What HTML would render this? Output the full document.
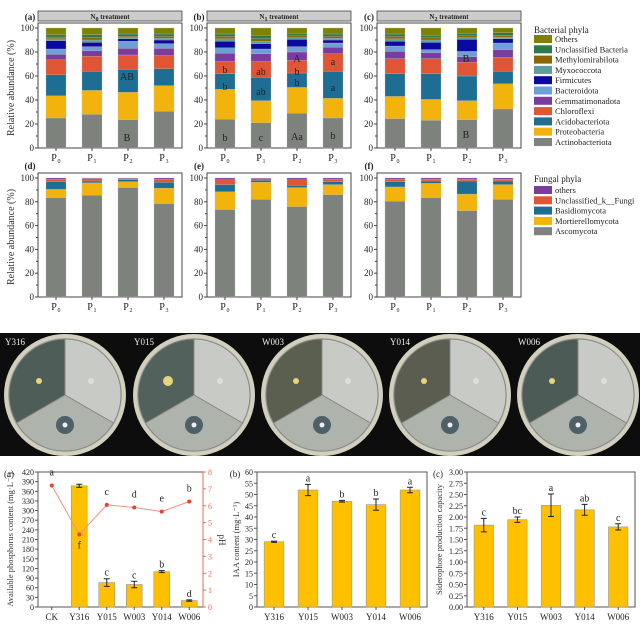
<!DOCTYPE html>
<html><head><meta charset="utf-8"><style>
body{margin:0;background:#fff;width:640px;height:640px;overflow:hidden}
svg{display:block;font-family:"Liberation Serif",serif}
</style></head><body>
<svg id="s" width="640" height="640" viewBox="0 0 640 640" xmlns="http://www.w3.org/2000/svg"></svg>
<script>
const S=document.getElementById('s');let h='';
const bc=['#7d827c','#f2b40c','#1d6e92','#e05533','#7a3d9f','#6e9fd6','#0a0a9e','#5f9f99','#8a6500','#2a7b4b','#7f8200'];
const fc=['#7d827c','#f2b40c','#1d6e92','#e05533','#7a3d9f'];
const bac=[[[25,43.5,61,73.5,78,82.5,89.5,91,92.5,94.5,100],[28,48,64,76.5,81,84.5,88,90,92,94.5,100],[23.5,46.5,65.5,77.5,83,89,91,92,93,95,100],[30.5,52,66,77,83,87,90,91.5,93,95,100]],
[[24,49,62,72,79,83.5,89,91,93,95,100],[21,39.5,59,72,78.5,82.5,87,89,91,94,100],[29,50.5,62.5,73,80,84.5,90.5,92,93.5,95.5,100],[25,41.5,64,78.5,84,87.5,90,91.5,93,95,100]],
[[24.5,43,62,74.5,80.5,85,89,91,93,95,100],[23,40.5,62,74.5,79.5,82,88,90,92,94,100],[23.5,39.5,60,71.5,76,80.5,90.5,92,93.5,95.5,100],[32.5,53.5,64,75.5,82,87.5,91,92.5,94,96,100]]];
const fun=[[[83.5,90.5,97,99,100],[85.5,96,97.5,99.5,100],[92,97,98.5,99.5,100],[78.5,91.5,96.5,99,100]],
[[73.5,88.5,94.5,98.5,100],[82,96.5,98,99.5,100],[76,92,94,98.5,100],[86,94.5,97,99,100]],
[[80.5,92.5,97,99,100],[83.5,95.5,97.5,99,100],[72.5,86.5,97.5,99,100],[82,94.5,97.5,99,100]]];
const L=[38,207,377];
function t(x,y,s,sz,a,c,e){h+=`<text x="${x}" y="${y}" font-size="${sz}" text-anchor="${a||'start'}" fill="${c||'#222'}" ${e||''}>${s}</text>`}
function stack(x0,y0,y1,data,cols,lbl){
 const w=144,sc=(y0-y1)/100;
 h+=`<rect x="${x0}" y="${y1-5}" width="${w}" height="${y0-y1+5}" fill="none" stroke="#444" stroke-width="1"/>`;
 data.forEach((d,i)=>{const cx=x0+18+i*36;let p=0;d.forEach((v,k)=>{h+=`<rect x="${cx-10}" y="${y0-v*sc}" width="20" height="${(v-p)*sc}" fill="${cols[k]}" stroke="#bbb" stroke-width="0.3"/>`;p=v;});
 h+=`<line x1="${cx}" y1="${y0}" x2="${cx}" y2="${y0+3}" stroke="#444"/>`;
 t(cx-2,y0+13,'P',10,'middle');t(cx+3,y0+15,i,6,'middle');});
 for(let v=0;v<=100;v+=20){const y=y0-v*sc;h+=`<line x1="${x0-3}" y1="${y}" x2="${x0}" y2="${y}" stroke="#444"/>`;t(x0-4,y+3,v,9,'end');}
 for(let v=10;v<100;v+=20){const y=y0-v*sc;h+=`<line x1="${x0-2}" y1="${y}" x2="${x0}" y2="${y}" stroke="#444"/>`;}
}
const hd=['N<tspan font-size="6" dy="2">0</tspan><tspan dy="-2"> treatment</tspan>','N<tspan font-size="6" dy="2">1</tspan><tspan dy="-2"> treatment</tspan>','N<tspan font-size="6" dy="2">2</tspan><tspan dy="-2"> treatment</tspan>'];
for(let p=0;p<3;p++){
 h+=`<rect x="${L[p]}" y="11" width="144" height="10" fill="#ccc" stroke="#444" stroke-width="0.8"/>`;
 t(L[p]+72,19,hd[p],7,'middle','#222','font-weight="bold"');
 t(L[p]-8,20,'('+'abc'[p]+')',9,'middle','#222','font-weight="bold"');
 stack(L[p],148,28,bac[p],bc);
 t(L[p]-8,169,'('+'def'[p]+')',9,'middle','#222','font-weight="bold"');
 stack(L[p],297,178,fun[p],fc);
}
t(14,88,'Relative abundance (%)',10,'middle','#333','transform="rotate(-90 14 88)"');
t(14,237,'Relative abundance (%)',10,'middle','#333','transform="rotate(-90 14 237)"');
t(127,80,'AB',10,'middle');t(127,141,'B',10,'middle');
const lb=[[225,73,'b'],[225,90,'b'],[225,141,'b'],[261,75,'ab'],[261,95,'ab'],[261,141,'c'],[297,62,'A'],[297,75,'b'],[297,86,'b'],[297,140,'Aa'],[333,65,'a'],[333,91,'a'],[333,139,'b']];
lb.forEach(a=>t(a[0],a[1],a[2],10,'middle'));
t(466,62,'B',10,'middle');t(466,138,'B',10,'middle');
t(534,33,'Bacterial phyla',9);
const bn=['Others','Unclassified Bacteria','Methylomirabilota','Myxococcota','Firmicutes','Bacteroidota','Gemmatimonadota','Chloroflexi','Acidobacteriota','Proteobacteria','Actinobacteriota'];
bn.forEach((n,i)=>{const y=35+i*10.3;h+=`<rect x="534" y="${y}" width="18" height="8" fill="${bc[10-i]}"/>`;t(555,y+7,n,8.5);});
t(534,182,'Fungal phyla',9);
const fnm=['others','Unclassified_k__Fungi','Basidiomycota','Mortierellomycota','Ascomycota'];
fnm.forEach((n,i)=>{const y=186+i*10.3;h+=`<rect x="534" y="${y}" width="18" height="8" fill="${fc[4-i]}"/>`;t(555,y+7,n,8.5);});
h+=`<rect x="0" y="333" width="640" height="123" fill="#0d0d0d"/>`;
const pc=[65,194,322,450,578],pn=['Y316','Y015','W003','Y014','W006'],pd=['#4f5d58','#52615b','#5a5f50','#5a5d4f','#4d5b57'];
pc.forEach((cx,i)=>{const cy=395,r=61;
 h+=`<circle cx="${cx}" cy="${cy}" r="${r}" fill="#d2d0bd"/><circle cx="${cx}" cy="${cy}" r="${r-4}" fill="#b5b8ad"/>`;
 const pt=a=>[cx+(r-5)*Math.cos(a),cy+(r-5)*Math.sin(a)];
 const sec=(a1,a2,c)=>{const p1=pt(a1),p2=pt(a2);h+=`<path d="M${cx},${cy} L${p1[0]},${p1[1]} A${r-5},${r-5} 0 0 1 ${p2[0]},${p2[1]} Z" fill="${c}" stroke="#888" stroke-width="1"/>`;};
 const d=Math.PI/180;
 sec(-90*d,30*d,'#c8cbc5');sec(30*d,150*d,'#aeb3ab');sec(150*d,270*d,pd[i]);
 h+=`<circle cx="${cx-26}" cy="${cy-14}" r="${i==1?5:3}" fill="#e6d57a"/><circle cx="${cx+26}" cy="${cy-14}" r="3" fill="#dde0da"/>`;
 h+=`<circle cx="${cx}" cy="${cy+30}" r="9" fill="#4e6068"/><circle cx="${cx}" cy="${cy+30}" r="2.5" fill="#eee"/>`;
 t(cx-60,345,pn[i],9,'start','#eee');
});
function axes(x0,x1,y0,y1,max,step,fmt,lab,tag,off){
 h+=`<rect x="${x0}" y="${y1}" width="${x1-x0}" height="${y0-y1}" fill="none" stroke="#555"/>`;
 for(let v=0;v<=max+1e-9;v+=step){const y=y0-v/max*(y0-y1);h+=`<line x1="${x0-3}" y1="${y}" x2="${x0}" y2="${y}" stroke="#555"/>`;t(x0-4,y+3,fmt(v),8,'end');}
 const my=(y0+y1)/2,lx=x0-off;t(lx,my,lab,8.5,'middle','#333',`transform="rotate(-90 ${lx} ${my})"`);
 t(x0-off-4,y1+5,tag,9,'middle');
}
function bars(x0,x1,y0,y1,max,cats,vals,errs,lets){
 const n=cats.length,w=(x1-x0)/n;
 cats.forEach((c,i)=>{const cx=x0+w*(i+.5);const v=vals[i],y=y0-v/max*(y0-y1);
  if(v>0)h+=`<rect x="${cx-w*0.29}" y="${y}" width="${w*0.58}" height="${y0-y}" fill="#ffc000" stroke="#999" stroke-width="0.6"/>`;
  if(errs[i]){const e=errs[i]/max*(y0-y1);h+=`<path d="M${cx},${y-e}V${y+e}M${cx-3},${y-e}H${cx+3}M${cx-3},${y+e}H${cx+3}" stroke="#222" stroke-width="1"/>`;
  if(lets[i])t(cx,y-e-3,lets[i],10,'middle');}
  h+=`<line x1="${cx}" y1="${y0}" x2="${cx}" y2="${y0+3}" stroke="#555"/>`;t(cx,y0+13,c,9,'middle');});
}
axes(38,203,607,472,420,30,v=>v,'Available phosphorus content (mg·L⁻¹)','(a)',25);
bars(38,203,607,472,420,['CK','Y316','Y015','W003','Y014','W006'],[0,377,76,70,110,20],[0,5,12,10,3,2],['','','c','c','b','d']);
for(let v=0;v<=8;v++){const y=607-v/8*135;h+=`<line x1="203" y1="${y}" x2="206" y2="${y}" stroke="#f06a50"/>`;t(208,y+3,v,8,'start','#f06a50');}
h+=`<line x1="203" y1="472" x2="203" y2="607" stroke="#f06a50"/>`;
t(219,540,'pH',9,'middle','#333','transform="rotate(90 219 540)"');
const ph=[7.2,4.3,6.05,5.9,5.65,6.25],pl=['a','f','c','d','e','b'];
let pp='';ph.forEach((v,i)=>{const x=38+27.5*(i+.5),y=607-v/8*135;pp+=(i?'L':'M')+x+','+y;});
h+=`<path d="${pp}" fill="none" stroke="#f59080" stroke-width="1"/>`;
ph.forEach((v,i)=>{const x=38+27.5*(i+.5),y=607-v/8*135;h+=`<circle cx="${x}" cy="${y}" r="2" fill="#e8402a"/>`;t(x,i==1?y+14:y-10,pl[i],10,'middle');});
axes(257,427,607,472,60,5,v=>v,'IAA content (mg·L⁻¹)','(b)',18);
bars(257,427,607,472,60,['Y316','Y015','W003','Y014','W006'],[29,52,47,45.5,52],[0.3,2.5,0.4,2.5,1.2],['c','a','b','b','a']);
axes(467,635,607,472,3,0.25,v=>v.toFixed(2),'Siderophore production capacity','(c)',25);
bars(467,635,607,472,3,['Y316','Y015','W003','Y014','W006'],[1.82,1.94,2.26,2.16,1.78],[0.15,0.06,0.25,0.12,0.07],['c','bc','a','ab','c']);
S.innerHTML=h;
</script>
</body></html>
